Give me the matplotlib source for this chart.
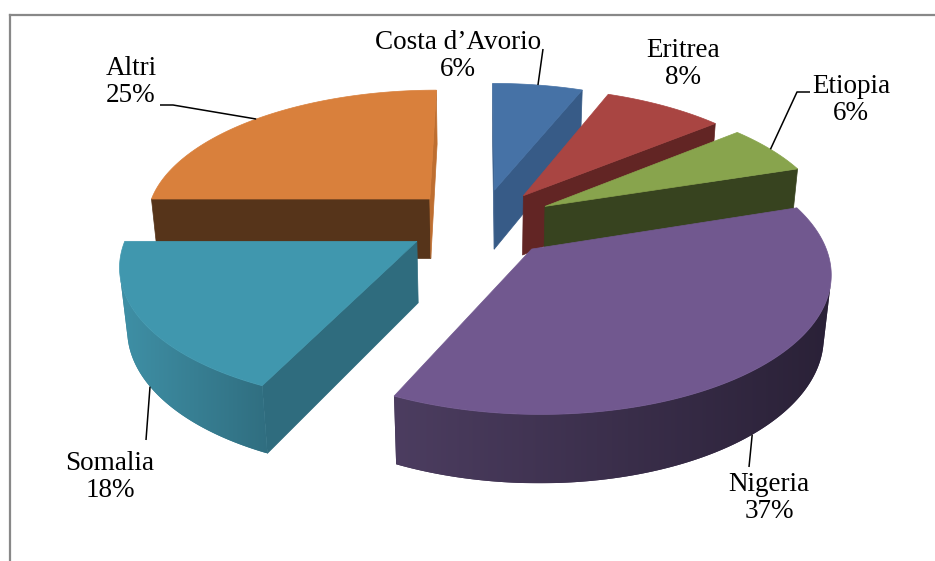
import numpy as np
import matplotlib
matplotlib.use("Agg")
import matplotlib.pyplot as plt
from matplotlib.patches import Polygon
from matplotlib.colors import to_rgb, LinearSegmentedColormap

# --- data -------------------------------------------------------------
countries = ["Costa d’Avorio", "Eritrea", "Etiopia", "Nigeria", "Somalia", "Altri"]
shares = [6, 8, 6, 37, 18, 25]

# --- style ------------------------------------------------------------
top_colors = ["#4672A6", "#A94542", "#88A44D", "#71588F", "#4097AE", "#D9803C"]
start_cut_colors = ["#3A5F8C", "#622524", "#37431F", "#2C2339", "#2F6C7E", "#56341A"]
end_cut_colors = ["#375B87", "#622524", "#37431F", "#2C2339", "#2F6C7E", "#BE6E30"]
wall_left = ["#3A5F8C", "#7A2E2C", "#4A5A29", "#4C3D60", "#3F90A6", "#8A5228"]
wall_right = ["#2F4F75", "#5A2221", "#333E1C", "#2A2137", "#306E80", "#56341A"]

# label layout in pixels (centre of the two-line label) and leader elbows
label_xy = [(458, 56), (683, 64), (851, 100), (769, 498), (110, 477), (131, 82)]
leader_pts = [[(543, 49)], [], [(797, 92), (810, 92)], [(749, 467)],
              [(146, 440)], [(173, 105), (160, 105)]]

# --- 3d projection (pie radius = 1) -------------------------------------
PHI = np.radians(29.5)
DIST = 5.92
FOCAL = 1659.0
DEPTH = 0.2435
EXPLODE = 0.26
CX, CY = 481.0, 283.2
CAM_Y = DIST * np.cos(PHI)


def project(x, y, z):
    w = DIST + y * np.cos(PHI) - z * np.sin(PHI)
    g = FOCAL / w
    return CX + x * g, CY - (y * np.sin(PHI) + z * np.cos(PHI)) * g


fig = plt.figure(figsize=(9.35, 5.61), dpi=100)
ax = fig.add_axes([0, 0, 1, 1])

total = float(sum(shares))
bounds = np.concatenate([[0], np.cumsum(shares)]) / total * 360.0

slices = []
for i in range(len(shares)):
    t0, t1 = bounds[i], bounds[i + 1]
    tm = np.radians((t0 + t1) / 2)
    ox, oy = EXPLODE * np.sin(tm), EXPLODE * np.cos(tm)
    key = oy + 0.5 * np.cos(tm)
    slices.append((key, i, t0, t1, tm, ox, oy))

z = 1
# farthest slice first
for key, i, t0, t1, tm, ox, oy in sorted(slices, key=lambda s: -s[0]):
    n = max(int((t1 - t0) * 2), 8)
    th = np.radians(np.linspace(t0, t1, n))
    arc_x = ox + np.sin(th)
    arc_y = oy + np.cos(th)

    # radial cut faces
    a0, a1 = np.radians(t0), np.radians(t1)
    for ang, vis, col in [
        (a0, ox * np.cos(a0) - (CAM_Y + oy) * np.sin(a0), start_cut_colors[i]),
        (a1, -ox * np.cos(a1) + (CAM_Y + oy) * np.sin(a1), end_cut_colors[i]),
    ]:
        if vis <= 0:
            continue
        corners = [(ox, oy, DEPTH), (ox + np.sin(ang), oy + np.cos(ang), DEPTH),
                   (ox + np.sin(ang), oy + np.cos(ang), 0), (ox, oy, 0)]
        pts = [project(*c) for c in corners]
        ax.add_patch(Polygon(pts, closed=True, facecolor=col, edgecolor=col,
                             lw=0.5, zorder=z))
        z += 1

    # outer wall, shaded with a horizontal gradient
    tx, ty = project(arc_x, arc_y, DEPTH)
    bx, by = project(arc_x, arc_y, 0)
    vis = -ox * np.sin(th) - (CAM_Y + oy) * np.cos(th) - 1
    idx = np.where(vis > 0)[0]
    if len(idx) > 1:
        j0, j1 = idx.min(), idx.max()
        wall = np.column_stack([np.concatenate([tx[j0:j1 + 1], bx[j0:j1 + 1][::-1]]),
                                np.concatenate([ty[j0:j1 + 1], by[j0:j1 + 1][::-1]])])
        xmin, xmax = wall[:, 0].min(), wall[:, 0].max()
        ymin, ymax = wall[:, 1].min(), wall[:, 1].max()
        mid = tuple((np.array(to_rgb(wall_left[i])) + np.array(to_rgb(wall_right[i]))) / 2)
        patch = Polygon(wall, closed=True, facecolor=mid, edgecolor="none", zorder=z)
        ax.add_patch(patch)
        z += 1
        cmap = LinearSegmentedColormap.from_list(f"w{i}", [wall_left[i], wall_right[i]])
        im = ax.imshow(np.linspace(0, 1, 256)[None, :], cmap=cmap, aspect="auto",
                       extent=[xmin, xmax, ymax, ymin], interpolation="bilinear",
                       zorder=z)
        im.set_clip_path(patch)
        z += 1

    # top face
    apx, apy = project(ox, oy, DEPTH)
    pts = np.column_stack([np.concatenate([[apx], tx]), np.concatenate([[apy], ty])])
    ax.add_patch(Polygon(pts, closed=True, facecolor=top_colors[i],
                         edgecolor=top_colors[i], lw=0.5, zorder=z))
    z += 1

    # leader line + label
    zl = DEPTH if np.cos(tm) > 0 else 0
    lx, ly = project(ox + np.sin(tm), oy + np.cos(tm), zl)
    if leader_pts[i]:
        xs = [lx] + [p[0] for p in leader_pts[i]]
        ys = [ly] + [p[1] for p in leader_pts[i]]
        ax.plot(xs, ys, color="black", lw=1.1, solid_capstyle="butt", zorder=100)
    ax.text(label_xy[i][0], label_xy[i][1], f"{countries[i]}\n{shares[i]}%",
            ha="center", va="center", fontsize=19.5, linespacing=1.15,
            family=["Liberation Serif", "DejaVu Serif"], color="black", zorder=101)

# chart frame (only top and left edge visible)
ax.plot([9.5, 935], [14.5, 14.5], color="#888888", lw=1.6, zorder=102)
ax.plot([9.5, 9.5], [14.5, 561], color="#888888", lw=1.6, zorder=102)

ax.set_xlim(0, 935)
ax.set_ylim(561, 0)
ax.axis("off")

fig.savefig("out.png", dpi=100)
